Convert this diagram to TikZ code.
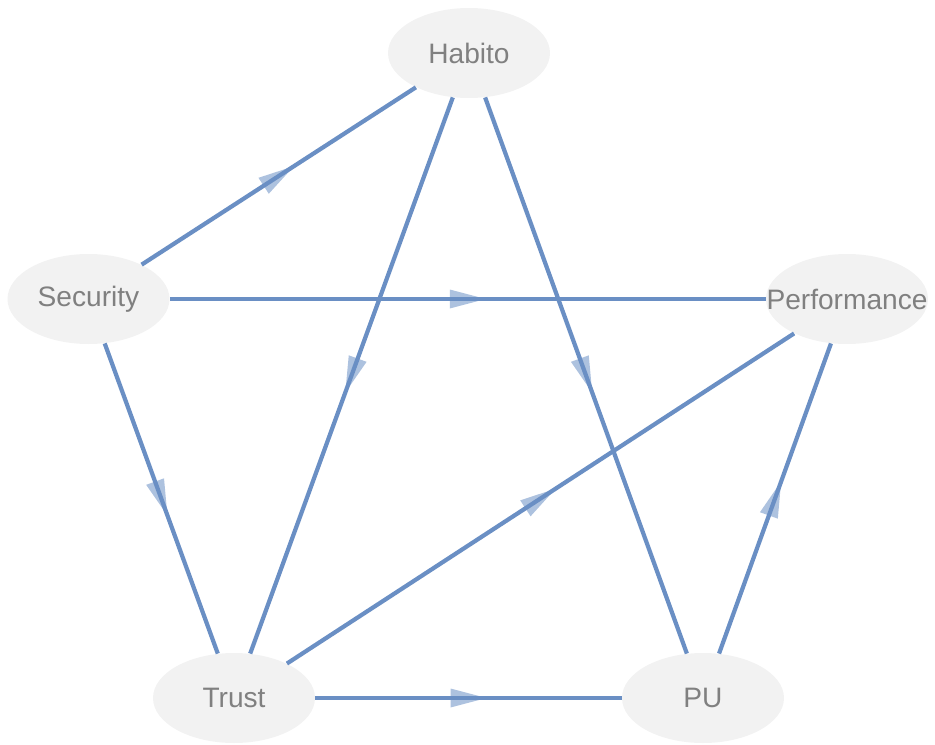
\documentclass[tikz,border=0pt]{standalone}
\usepackage{fontspec}
\setmainfont{Liberation Sans}
\usetikzlibrary{shapes.geometric, decorations.markings}
\definecolor{edgeblue}{RGB}{106,143,196}
\definecolor{nodegray}{RGB}{242,242,242}
\definecolor{textgray}{RGB}{128,128,128}

\begin{document}
\begin{tikzpicture}[
    factor/.style={ellipse, fill=nodegray, text=textgray, minimum width=3.24cm, minimum height=1.8cm, inner sep=0pt, font=\fontsize{16}{19}\selectfont},
    link/.style={draw=edgeblue, line width=2.4pt, postaction={decorate},
        decoration={markings, mark=at position 0.5 with {\fill[edgeblue, fill opacity=0.55] (-0.36cm,0.19cm) -- (0.36cm,0) -- (-0.36cm,-0.19cm) -- cycle;}}}
]
    \useasboundingbox (0,0) rectangle (18.7,14.88);

    \node[factor] (habito) at (9.38,13.82) {\makebox[0pt]{Habito}};
    \node[factor] (security) at (1.77,8.90) {\makebox[0pt]{Security}};
    \node[factor] (perf) at (16.94,8.90) {\makebox[0pt]{Performance}};
    \node[factor] (trust) at (4.68,0.92) {\makebox[0pt]{Trust}};
    \node[factor] (pu) at (14.06,0.92) {\makebox[0pt]{PU}};

    \draw[link] (security) -- (habito);
    \draw[link] (habito) -- (trust);
    \draw[link] (habito) -- (pu);
    \draw[link] (security) -- (perf);
    \draw[link] (security) -- (trust);
    \draw[link] (trust) -- (perf);
    \draw[link] (trust) -- (pu);
    \draw[link] (pu) -- (perf);
\end{tikzpicture}
\end{document}
